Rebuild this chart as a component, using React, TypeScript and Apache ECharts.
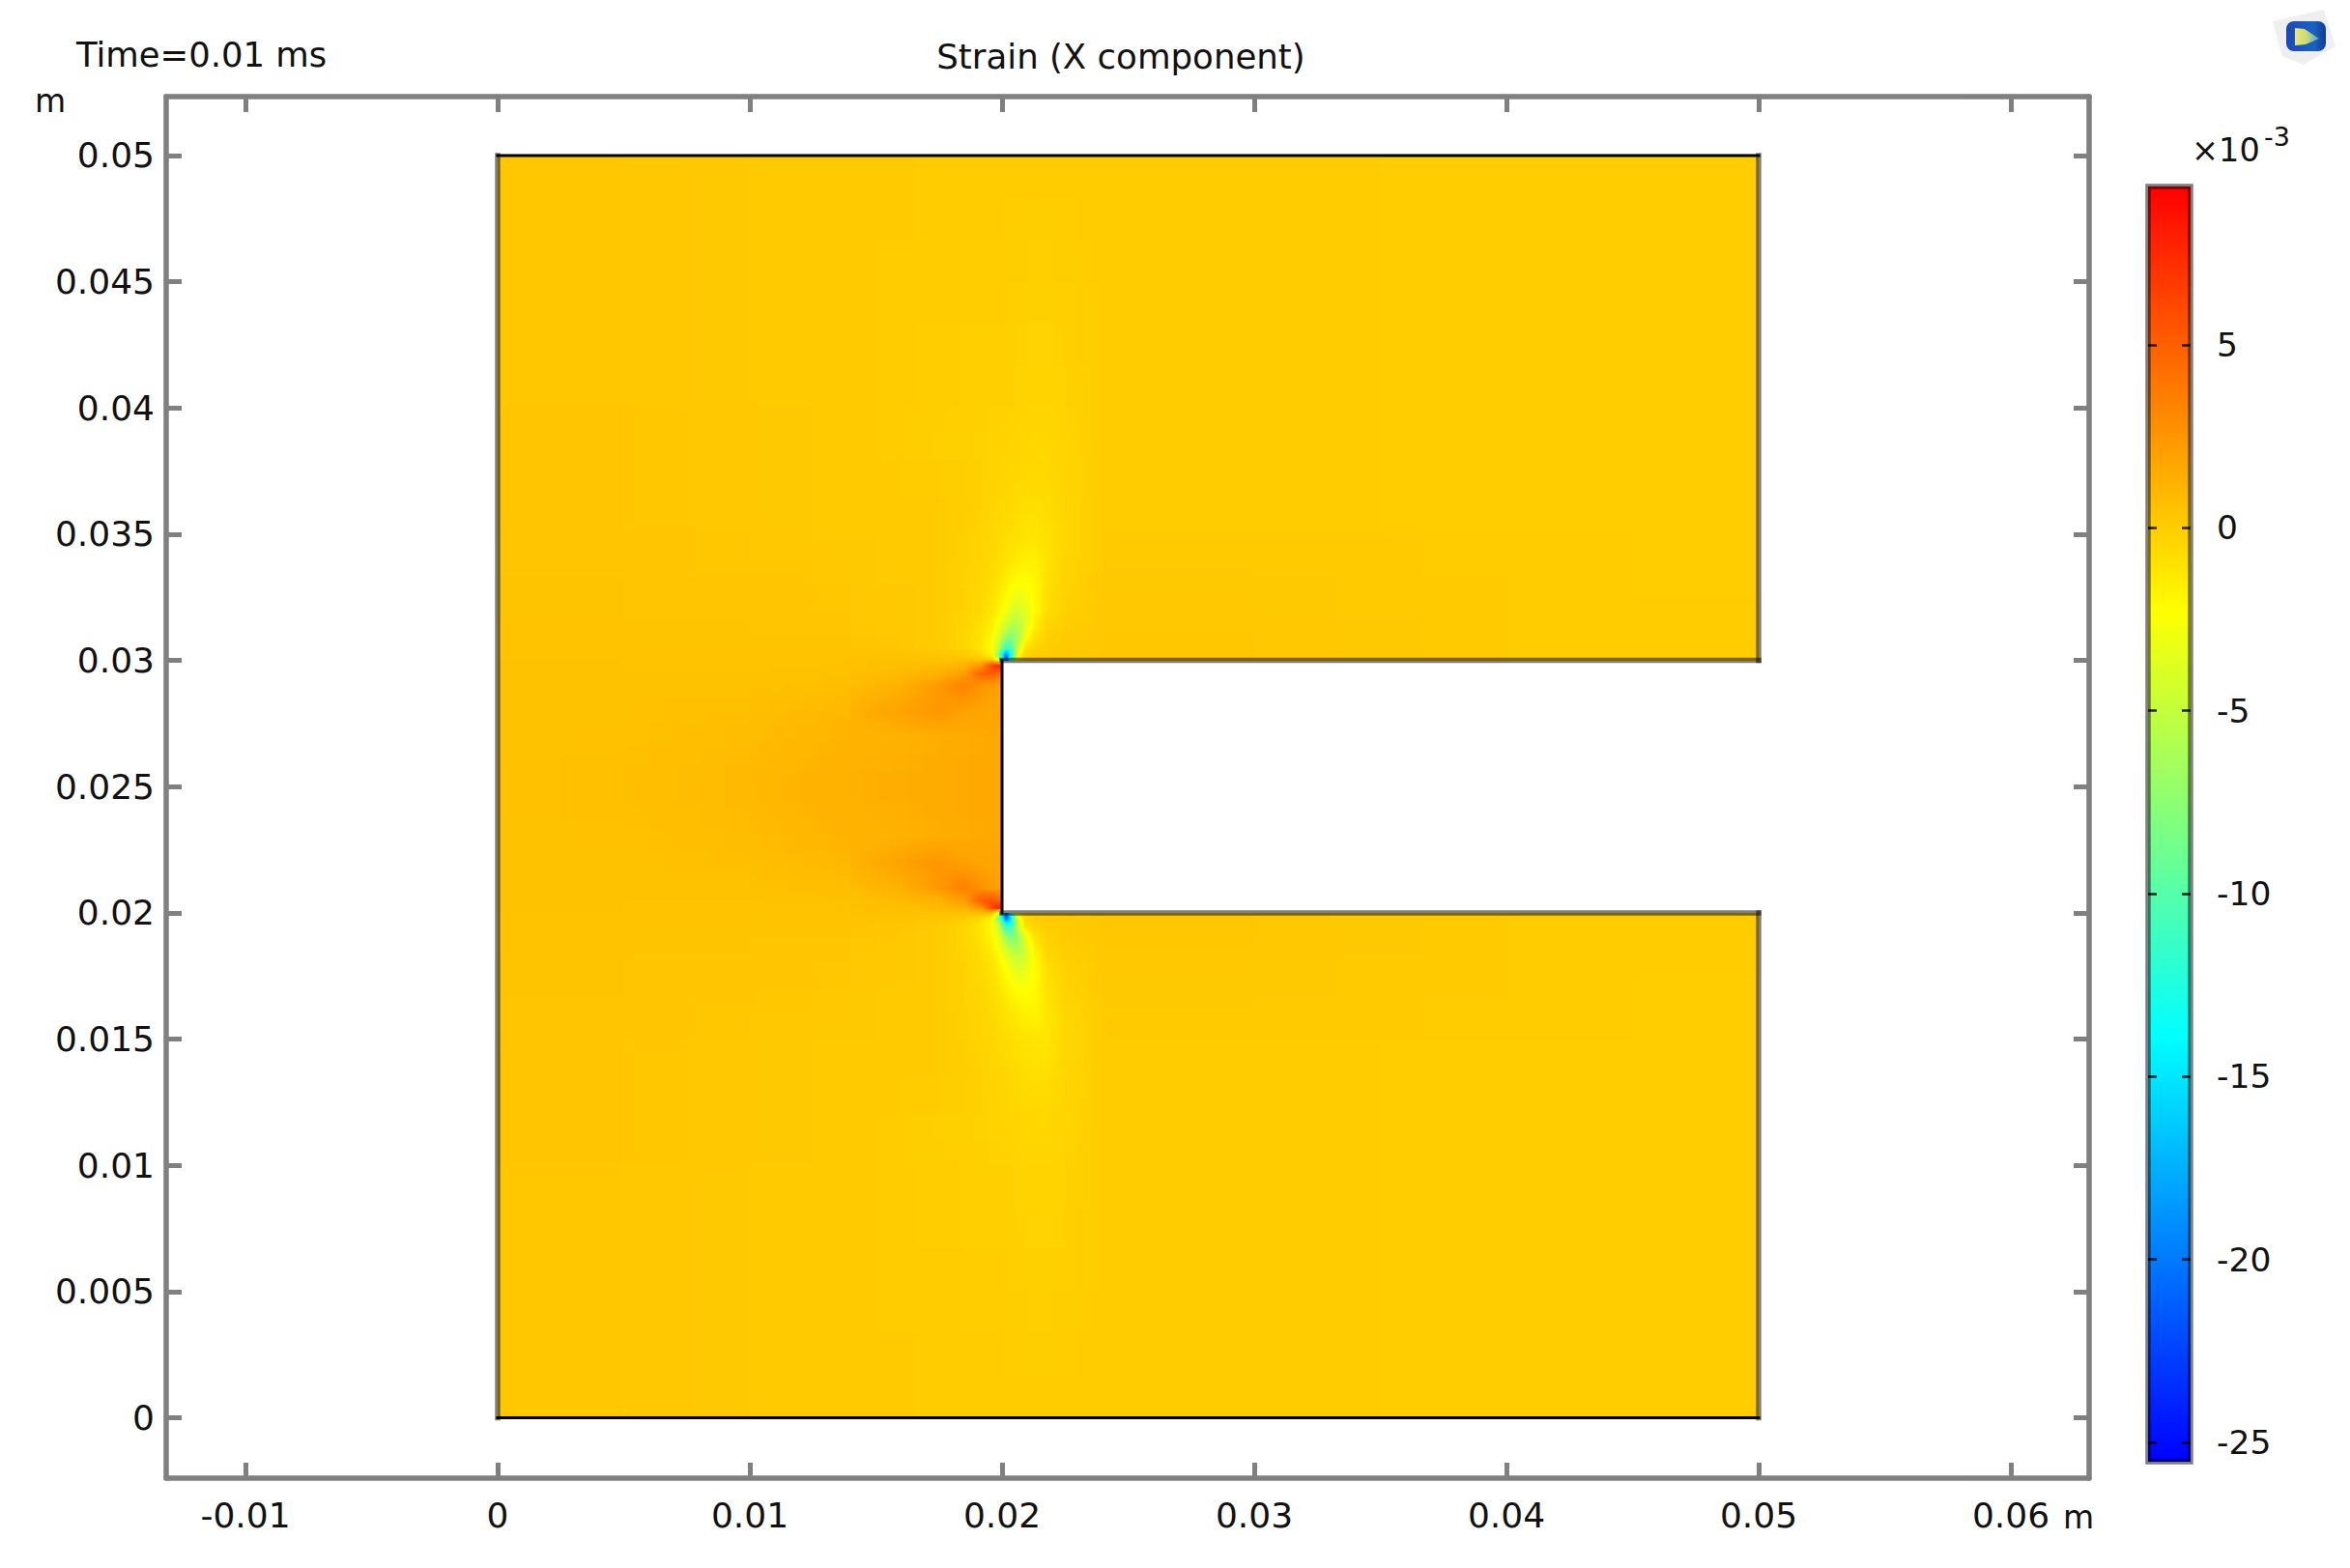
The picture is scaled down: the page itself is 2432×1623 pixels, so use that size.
import React, { useEffect, useRef } from "react";
import * as echarts from "echarts";

// ---- axes ----
const X_TICKS = [-0.01, 0, 0.01, 0.02, 0.03, 0.04, 0.05, 0.06];
const Y_TICKS = [0, 0.005, 0.01, 0.015, 0.02, 0.025, 0.03, 0.035, 0.04, 0.045, 0.05];
const BAR_TICKS = [-25, -20, -15, -10, -5, 0, 5];
const BAR_MIN = -25.53;
const BAR_MAX = 9.33;
const BAR_COLORS = ["#0000ff", "#00ffff", "#ffff00", "#ff0000"];

// ---- outline of the part, mm: x0, y0, x1, y1 ----
const OUTLINE_DARK = [
  [0, 50, 50, 50],
  [0, 0, 50, 0],
  [20, 20, 20, 30],
];
const OUTLINE_SOFT = [
  [0, 0, 0, 50],
  [50, 30, 50, 50],
  [50, 0, 50, 20],
  [20, 30, 50, 30],
  [20, 20, 50, 20],
];

// ---- strain (x 10^-3) at mesh nodes ----
const N: any = null;
const COARSE_X = [0, 5, 10, 15, 20, 21.5, 24, 30, 40, 50];
const COARSE_Y = [0, 10, 15, 20, 22.5, 25, 27.5, 30, 35, 40, 50];
const COARSE_V = [
  [0.25, 0.2, 0.15, 0.1, 0.05, 0.05, 0.05, 0.05, 0, 0],
  [0.3, 0.25, 0.15, 0.05, -0.15, -0.35, 0, 0.05, -0.05, -0.05],
  [0.35, 0.3, 0.2, 0.1, -0.5, -1.0, 0.05, 0.1, 0, 0],
  [0.45, 0.45, 0.4, 0.45, 0.6, 0.2, 0.3, 0.25, 0.1, 0],
  [0.47, 0.52, 0.72, 1.15, 1.65, N, N, N, N, N],
  [0.5, 0.6, 0.9, 1.4, 1.7, N, N, N, N, N],
  [0.47, 0.52, 0.72, 1.15, 1.65, N, N, N, N, N],
  [0.45, 0.45, 0.4, 0.45, 0.6, 0.2, 0.3, 0.25, 0.1, 0],
  [0.35, 0.3, 0.2, 0.1, -0.5, -0.9, 0.05, 0.1, 0, 0],
  [0.3, 0.25, 0.15, 0.05, -0.15, -0.35, 0, 0.05, -0.05, -0.05],
  [0.25, 0.2, 0.15, 0.1, 0.05, 0.05, 0.05, 0.05, 0, 0],
];

const FINE_X = [14, 16, 17.5, 18.5, 19.2, 19.6, 19.85, 20, 20.15, 20.35, 20.6, 20.9, 21.3, 21.8, 22.5, 24];

const UPPER_Y = [27, 28, 29, 29.5, 29.8, 30, 30.2, 30.5, 31, 31.5, 32, 33, 34, 35, 36.5, 38];
const UPPER_V = [
  [1.1, 1.3, 1.45, 1.55, 1.62, 1.65, 1.67, 1.67, N, N, N, N, N, N, N, N],
  [1.15, 1.95, 2.45, 1.95, 1.85, 1.8, 1.75, 1.75, N, N, N, N, N, N, N, N],
  [0.75, 1.3, 2.35, 3.4, 2.5, 2.15, 2.0, 1.95, N, N, N, N, N, N, N, N],
  [0.6, 0.85, 1.2, 2.1, 5.0, 5.2, 4.6, 3.8, N, N, N, N, N, N, N, N],
  [0.55, 0.7, 0.85, 1.2, 2.6, 6.3, 7.5, 7.5, N, N, N, N, N, N, N, N],
  [0.45, 0.55, 0.5, 0.6, 0.7, 0.8, -2, -12, -22, -10, -1.5, 0, 0.05, 0.1, 0.15, 0.3],
  [0.45, 0.45, 0.35, 0.1, -0.6, -2.0, -7, -14, -20, -14, -2.5, -0.4, -0.05, 0.05, 0.15, 0.25],
  [0.4, 0.3, 0.1, -0.3, -1.2, -2.4, -5.0, -8.5, -11, -11, -4.5, -1.0, -0.3, 0, 0.1, 0.25],
  [0.3, 0.2, 0.05, -0.35, -1.0, -2.0, -3.5, -5.0, -6.5, -7.5, -6.5, -3.2, -1.0, -0.2, 0.05, 0.2],
  [0.25, 0.2, 0.05, -0.3, -0.8, -1.5, -2.4, -3.2, -4.2, -5.2, -5.5, -4.0, -1.6, -0.4, -0.05, 0.2],
  [0.25, 0.2, 0.05, -0.25, -0.6, -1.1, -1.7, -2.2, -2.9, -3.6, -4.2, -3.5, -2.1, -0.7, -0.15, 0.15],
  [0.2, 0.15, 0.05, -0.2, -0.4, -0.7, -1.0, -1.3, -1.6, -2.0, -2.3, -2.4, -2.0, -0.9, -0.25, 0.1],
  [0.2, 0.1, 0.05, -0.15, -0.35, -0.55, -0.7, -0.8, -0.95, -1.1, -1.3, -1.5, -1.5, -1.0, -0.35, 0.05],
  [0.15, 0.1, 0.05, -0.1, -0.3, -0.45, -0.55, -0.6, -0.7, -0.75, -0.85, -1.0, -1.05, -0.85, -0.4, 0.05],
  [0.12, 0.08, 0.02, -0.05, -0.15, -0.3, -0.35, -0.4, -0.45, -0.5, -0.6, -0.65, -0.7, -0.65, -0.35, 0.03],
  [0.1, 0.03, -0.03, -0.1, -0.17, -0.22, -0.25, -0.3, -0.33, -0.37, -0.42, -0.47, -0.5, -0.45, -0.3, 0.02],
];

const LOWER_Y = [12, 13.5, 15, 16, 17, 18, 18.5, 19, 19.5, 19.8, 20, 20.2, 20.5, 21, 22, 23];
const LOWER_V = [
  [0.1, 0.03, -0.03, -0.1, -0.17, -0.22, -0.25, -0.3, -0.33, -0.37, -0.42, -0.47, -0.5, -0.5, -0.3, 0.02],
  [0.12, 0.08, 0.02, -0.05, -0.15, -0.3, -0.35, -0.4, -0.45, -0.5, -0.6, -0.7, -0.8, -0.75, -0.4, 0.03],
  [0.15, 0.1, 0.05, -0.1, -0.3, -0.45, -0.55, -0.6, -0.7, -0.8, -0.9, -1.0, -1.1, -1.1, -0.5, 0.05],
  [0.2, 0.1, 0.05, -0.15, -0.35, -0.55, -0.7, -0.85, -0.95, -1.1, -1.3, -1.6, -1.7, -1.2, -0.4, 0.05],
  [0.2, 0.15, 0.05, -0.2, -0.45, -0.8, -1.05, -1.3, -1.6, -2.0, -2.3, -2.4, -2.1, -1.0, -0.25, 0.1],
  [0.25, 0.2, 0.05, -0.25, -0.6, -1.1, -1.6, -2.1, -2.7, -3.4, -4.2, -3.9, -2.2, -0.7, -0.15, 0.15],
  [0.25, 0.2, 0.05, -0.3, -0.8, -1.5, -2.2, -3.0, -4.0, -5.2, -5.8, -4.4, -1.7, -0.4, -0.05, 0.2],
  [0.3, 0.2, 0.05, -0.35, -1.0, -2.0, -3.2, -4.5, -6.5, -8, -7, -3.4, -1.0, -0.2, 0.05, 0.2],
  [0.4, 0.3, 0.1, -0.3, -1.2, -2.3, -4.5, -8, -12, -12, -5, -1.0, -0.3, 0, 0.1, 0.25],
  [0.45, 0.45, 0.35, 0.1, -0.6, -2.0, -7, -14, -21, -16, -3.0, -0.4, -0.05, 0.05, 0.15, 0.25],
  [0.45, 0.55, 0.5, 0.6, 0.7, 0.7, -2.5, -12, -23, -12, -1.5, -0.1, 0.05, 0.1, 0.15, 0.3],
  [0.55, 0.7, 0.85, 1.2, 2.7, 6.4, 7.7, 7.7, N, N, N, N, N, N, N, N],
  [0.6, 0.85, 1.25, 2.2, 5.2, 5.4, 4.8, 4.0, N, N, N, N, N, N, N, N],
  [0.75, 1.3, 2.4, 3.5, 2.6, 2.2, 2.05, 2.0, N, N, N, N, N, N, N, N],
  [1.15, 1.95, 2.5, 2.0, 1.85, 1.8, 1.75, 1.75, N, N, N, N, N, N, N, N],
  [1.1, 1.3, 1.45, 1.55, 1.62, 1.65, 1.67, 1.67, N, N, N, N, N, N, N, N],
];

const FONT = "DejaVu Sans";
const TEXT = "#111";
const GRAY = "#808080";

function hexRgb(h: string) {
  return [parseInt(h.slice(1, 3), 16), parseInt(h.slice(3, 5), 16), parseInt(h.slice(5, 7), 16)];
}
const BAR_RGB = BAR_COLORS.map(hexRgb);

function colorOf(v: number) {
  const t = Math.max(0, Math.min(1, (v - BAR_MIN) / (BAR_MAX - BAR_MIN))) * (BAR_RGB.length - 1);
  const i = Math.min(BAR_RGB.length - 2, Math.floor(t));
  const f = t - i;
  const a = BAR_RGB[i];
  const b = BAR_RGB[i + 1];
  return `rgb(${Math.round(a[0] + (b[0] - a[0]) * f)},${Math.round(a[1] + (b[1] - a[1]) * f)},${Math.round(a[2] + (b[2] - a[2]) * f)})`;
}

// One item per mesh cell whose four nodes lie on the part.
function meshCells(xs: number[], ys: number[], rows: (number | null)[][]) {
  const out: number[][] = [];
  for (let j = 0; j + 1 < ys.length; j++) {
    for (let i = 0; i + 1 < xs.length; i++) {
      const a = rows[j][i];
      const b = rows[j][i + 1];
      const c = rows[j + 1][i];
      const d = rows[j + 1][i + 1];
      if (a == null || b == null || c == null || d == null) continue;
      out.push([xs[i] / 1000, xs[i + 1] / 1000, ys[j] / 1000, ys[j + 1] / 1000, a, b, c, d]);
    }
  }
  return out;
}

// Nodal shading inside one cell, on whole pixels so that no seams appear.
const SHADE_STEP = 0.07;
function renderCell(_p: any, api: any) {
  const x0 = api.value(0);
  const x1 = api.value(1);
  const y0 = api.value(2);
  const y1 = api.value(3);
  const a = api.value(4);
  const b = api.value(5);
  const c = api.value(6);
  const d = api.value(7);
  const p0 = api.coord([x0, y0]);
  const p1 = api.coord([x1, y1]);
  const w = p1[0] - p0[0];
  const h = p0[1] - p1[1];
  const nx = Math.max(1, Math.min(Math.ceil(w), Math.ceil(Math.max(Math.abs(b - a), Math.abs(d - c)) / SHADE_STEP)));
  const ny = Math.max(1, Math.min(Math.ceil(h), Math.ceil(Math.max(Math.abs(c - a), Math.abs(d - b)) / SHADE_STEP)));
  const children: any[] = [];
  for (let j = 0; j < ny; j++) {
    const bottom = Math.round(p0[1] - (h * j) / ny);
    const top = Math.round(p0[1] - (h * (j + 1)) / ny);
    if (bottom <= top) continue;
    const t = (j + 0.5) / ny;
    for (let i = 0; i < nx; i++) {
      const left = Math.round(p0[0] + (w * i) / nx);
      const right = Math.round(p0[0] + (w * (i + 1)) / nx);
      if (right <= left) continue;
      const s = (i + 0.5) / nx;
      const v = (a * (1 - s) + b * s) * (1 - t) + (c * (1 - s) + d * s) * t;
      children.push({
        type: "rect",
        shape: { x: left, y: top, width: right - left, height: bottom - top },
        style: { fill: colorOf(v) },
      });
    }
  }
  return { type: "group", children };
}

function fieldSeries(data: number[][]) {
  return {
    type: "custom",
    xAxisIndex: 0,
    yAxisIndex: 0,
    silent: true,
    encode: { x: [0, 1], y: [2, 3] },
    data,
    renderItem: renderCell,
  };
}

function edgeSeries(segments: number[][], stroke: string, lineWidth: number) {
  return {
    type: "custom",
    xAxisIndex: 0,
    yAxisIndex: 0,
    silent: true,
    z: 4,
    encode: { x: [0, 2], y: [1, 3] },
    data: segments.map((s) => s.map((v) => v / 1000)),
    renderItem: (_p: any, api: any) => {
      const a = api.coord([api.value(0), api.value(1)]);
      const b = api.coord([api.value(2), api.value(3)]);
      return {
        type: "line",
        shape: { x1: a[0], y1: a[1], x2: b[0], y2: b[1] },
        style: { stroke, lineWidth, lineCap: "square" },
      };
    },
  };
}

function frameAxis(position: string, ticks: number[], extent: number[], labels: boolean, margin: number) {
  return {
    type: "value",
    position,
    min: extent[0],
    max: extent[1],
    gridIndex: 0,
    splitLine: { show: false },
    axisLine: { show: true, onZero: false, lineStyle: { color: GRAY, width: 5.5 } },
    axisTick: { show: true, inside: true, length: 16, lineStyle: { color: GRAY, width: 5 }, customValues: ticks },
    axisLabel: {
      show: labels,
      customValues: ticks,
      margin,
      color: TEXT,
      fontFamily: FONT,
      fontSize: 36,
      formatter: (v: number) => String(v),
    },
  };
}

function barAxis(position: string, labels: boolean) {
  return {
    type: "value",
    position,
    gridIndex: 1,
    min: BAR_MIN,
    max: BAR_MAX,
    z: 10,
    splitLine: { show: false },
    axisLine: { show: false },
    axisTick: { show: true, inside: true, length: 9, lineStyle: { color: "rgba(0,0,0,0.85)", width: 2.5 }, customValues: BAR_TICKS },
    axisLabel: {
      show: labels,
      customValues: BAR_TICKS,
      margin: 27,
      color: TEXT,
      fontFamily: FONT,
      fontSize: 34.5,
      padding: [0, 0, 4, 0],
      formatter: (v: number) => String(v),
    },
  };
}

function label(text: string, x: number, y: number, fontSize: number, align = "left") {
  return {
    type: "text",
    x,
    y,
    style: { text, fontFamily: FONT, fontSize, fill: TEXT, align, verticalAlign: "middle" },
  };
}

export default function App() {
  const ref = useRef<HTMLDivElement>(null);
  useEffect(() => {
    const chart = echarts.init(ref.current!, null, { renderer: "svg" });
    const xExtent = [-0.013142, 0.063103];
    const yExtent = [-0.002392, 0.052334];
    chart.setOption({
      animation: false,
      backgroundColor: "#ffffff",
      grid: [
        { left: 172, top: 100, width: 1990, height: 1430 },
        { left: 2223, top: 193, width: 44, height: 1320 },
      ],
      xAxis: [
        frameAxis("bottom", X_TICKS, xExtent, true, 20),
        frameAxis("top", X_TICKS, xExtent, false, 0),
        { type: "value", gridIndex: 1, min: 0, max: 1, show: false },
      ],
      yAxis: [
        frameAxis("left", Y_TICKS, yExtent, true, 12),
        frameAxis("right", Y_TICKS, yExtent, false, 0),
        barAxis("left", false),
        barAxis("right", true),
      ],
      series: [
        fieldSeries(meshCells(COARSE_X, COARSE_Y, COARSE_V)),
        fieldSeries(meshCells(FINE_X, UPPER_Y, UPPER_V)),
        fieldSeries(meshCells(FINE_X, LOWER_Y, LOWER_V)),
        edgeSeries(OUTLINE_SOFT, "rgba(0,0,0,0.5)", 5.5),
        edgeSeries(OUTLINE_DARK, "#000000", 3),
        {
          type: "custom",
          xAxisIndex: 2,
          yAxisIndex: 3,
          silent: true,
          encode: { x: 0, y: 1 },
          data: [[0, BAR_MIN, 1, BAR_MAX]],
          renderItem: (_p: any, api: any) => {
            const a = api.coord([api.value(0), api.value(1)]);
            const b = api.coord([api.value(2), api.value(3)]);
            const n = BAR_COLORS.length - 1;
            return {
              type: "rect",
              shape: { x: a[0], y: b[1], width: b[0] - a[0], height: a[1] - b[1] },
              style: {
                fill: new echarts.graphic.LinearGradient(
                  0,
                  1,
                  0,
                  0,
                  BAR_COLORS.map((color, i) => ({ offset: i / n, color }))
                ),
                stroke: "rgba(0,0,0,0.5)",
                lineWidth: 5.5,
              },
            };
          },
        },
      ],
      graphic: [
        label("Time=0.01 ms", 79, 56, 35.4),
        label("Strain (X component)", 1160, 58, 35.6, "center"),
        label("m", 36, 104, 33),
        label("m", 2135, 1570, 33),
        label("×10", 2268, 155, 33.5),
        label("-3", 2343, 141, 27),
        {
          type: "polygon",
          shape: { points: [[2352, 22], [2405, 10], [2417, 48], [2384, 67], [2362, 58]] },
          style: { fill: "#efefef" },
        },
        {
          type: "rect",
          shape: { x: 2366, y: 22, width: 41, height: 31, r: 8 },
          style: {
            fill: new echarts.graphic.LinearGradient(0, 0, 1, 0, [
              { offset: 0, color: "#1c46b8" },
              { offset: 0.7, color: "#1a62c0" },
              { offset: 1, color: "#123a98" },
            ]),
          },
        },
        {
          type: "polygon",
          shape: { points: [[2375, 29], [2385, 30], [2400, 40], [2386, 46], [2375, 47]] },
          style: {
            fill: new echarts.graphic.LinearGradient(0, 0, 1, 0, [
              { offset: 0, color: "#eee870" },
              { offset: 0.5, color: "#c8d878" },
              { offset: 1, color: "#40a8e0" },
            ]),
          },
        },
      ],
    });
    return () => chart.dispose();
  }, []);
  return <div ref={ref} style={{ position: "absolute", left: 0, top: 0, width: 2432, height: 1623 }} />;
}
